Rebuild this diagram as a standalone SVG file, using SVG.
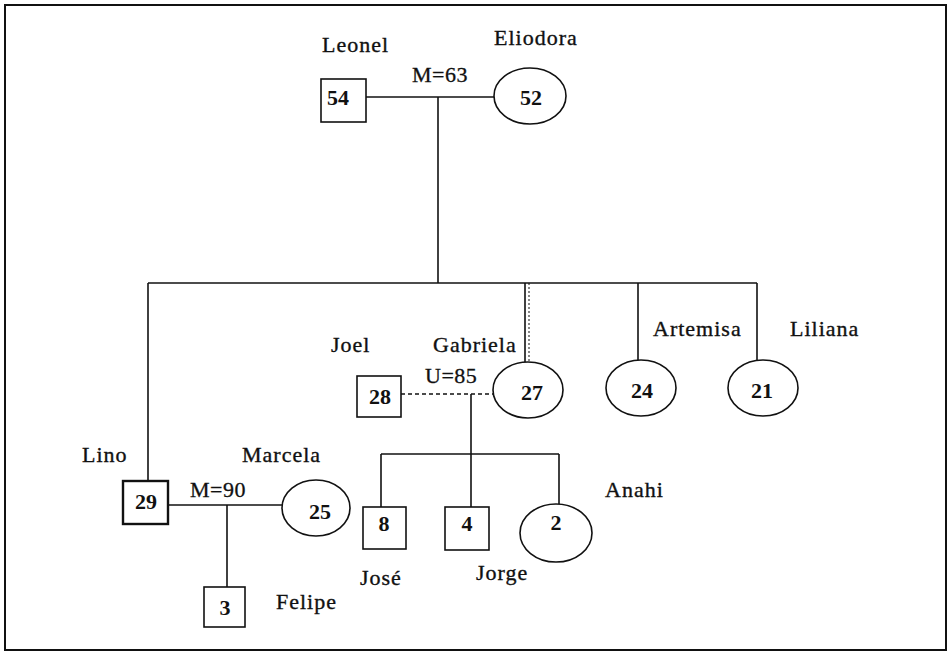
<svg xmlns="http://www.w3.org/2000/svg" width="950" height="655" viewBox="0 0 950 655">
<style>
  .bg{fill:#fff}
  .frame{fill:none;stroke:#111;stroke-width:2}
  .m{fill:#fff;stroke:#111;stroke-width:1.6}
  .f{fill:#fff;stroke:#111;stroke-width:1.6}
  .ln{stroke:#111;stroke-width:1.6;fill:none}
  .dash{stroke:#111;stroke-width:1.4;stroke-dasharray:4 3;fill:none}
  .lbl{font-family:"Liberation Serif","Times New Roman",serif;font-size:22px;fill:#111;stroke:#111;stroke-width:0.35;letter-spacing:1px}
  .num{font-family:"Liberation Serif","Times New Roman",serif;font-size:22px;font-weight:bold;fill:#111;text-anchor:middle}
  .rel{font-family:"Liberation Serif","Times New Roman",serif;font-size:22px;fill:#111;stroke:#111;stroke-width:0.3;letter-spacing:0.5px}
</style>
<rect class="bg" x="0" y="0" width="950" height="655"/>
<rect class="frame" x="5" y="5" width="941" height="645"/>
<g id="connectors">
  <line class="ln" x1="366" y1="97" x2="494" y2="97"/>
  <line class="ln" x1="438" y1="97" x2="438" y2="283"/>
  <line class="ln" x1="148" y1="283" x2="757" y2="283"/>
  <line class="ln" x1="148" y1="283" x2="148" y2="482"/>
  <line class="ln" x1="525" y1="283" x2="525" y2="362"/>
  <line class="ln" x1="529" y1="283" x2="529" y2="362" style="stroke-dasharray:2 2;stroke-width:1"/>
  <line class="ln" x1="638" y1="283" x2="638" y2="360"/>
  <line class="ln" x1="757" y1="283" x2="757" y2="360"/>
  <line class="dash" x1="401" y1="394" x2="493" y2="394"/>
  <line class="ln" x1="471" y1="394" x2="471" y2="454"/>
  <line class="ln" x1="381" y1="454" x2="559" y2="454"/>
  <line class="ln" x1="381" y1="454" x2="381" y2="507"/>
  <line class="ln" x1="471" y1="454" x2="471" y2="507"/>
  <line class="ln" x1="559" y1="454" x2="559" y2="504"/>
  <line class="ln" x1="168" y1="505" x2="282" y2="505"/>
  <line class="ln" x1="227" y1="505" x2="227" y2="587"/>
  <text class="rel" x="412" y="82">M=63</text>
  <text class="rel" x="425" y="383">U=85</text>
  <text class="rel" x="190" y="497">M=90</text>
</g>
<g id="leonel">
  <rect class="m" x="321" y="79" width="45" height="43"/>
  <text class="num" x="338" y="105">54</text>
  <text class="lbl" x="322" y="52">Leonel</text>
</g>
<g id="eliodora">
  <ellipse class="f" cx="530" cy="96" rx="36" ry="28"/>
  <text class="num" x="531" y="105">52</text>
  <text class="lbl" x="494" y="45">Eliodora</text>
</g>
<g id="lino">
  <rect class="m" x="123" y="481" width="45" height="43" style="stroke-width:2.4"/>
  <text class="num" x="146" y="509">29</text>
  <text class="lbl" x="82" y="462">Lino</text>
</g>
<g id="marcela">
  <ellipse class="f" cx="316" cy="508" rx="34" ry="28"/>
  <text class="num" x="320" y="519">25</text>
  <text class="lbl" x="242" y="462">Marcela</text>
</g>
<g id="felipe">
  <rect class="m" x="204" y="587" width="41" height="40"/>
  <text class="num" x="225" y="615">3</text>
  <text class="lbl" x="276" y="609">Felipe</text>
</g>
<g id="joel">
  <rect class="m" x="357" y="376" width="44" height="41"/>
  <text class="num" x="380" y="404">28</text>
  <text class="lbl" x="331" y="352">Joel</text>
</g>
<g id="gabriela">
  <ellipse class="f" cx="528" cy="390" rx="35" ry="28"/>
  <text class="num" x="532" y="400">27</text>
  <text class="lbl" x="433" y="352">Gabriela</text>
</g>
<g id="artemisa">
  <ellipse class="f" cx="641" cy="388" rx="35" ry="28"/>
  <text class="num" x="642" y="398">24</text>
  <text class="lbl" x="653" y="336">Artemisa</text>
</g>
<g id="liliana">
  <ellipse class="f" cx="763" cy="388" rx="35" ry="28"/>
  <text class="num" x="762" y="398">21</text>
  <text class="lbl" x="790" y="336">Liliana</text>
</g>
<g id="jose">
  <rect class="m" x="363" y="507" width="43" height="42"/>
  <text class="num" x="384" y="531">8</text>
  <text class="lbl" x="360" y="585">José</text>
</g>
<g id="jorge">
  <rect class="m" x="445" y="507" width="44" height="43"/>
  <text class="num" x="467" y="531">4</text>
  <text class="lbl" x="476" y="580">Jorge</text>
</g>
<g id="anahi">
  <ellipse class="f" cx="556" cy="533" rx="36" ry="29"/>
  <text class="num" x="556" y="530">2</text>
  <text class="lbl" x="605" y="497">Anahi</text>
</g>
</svg>
